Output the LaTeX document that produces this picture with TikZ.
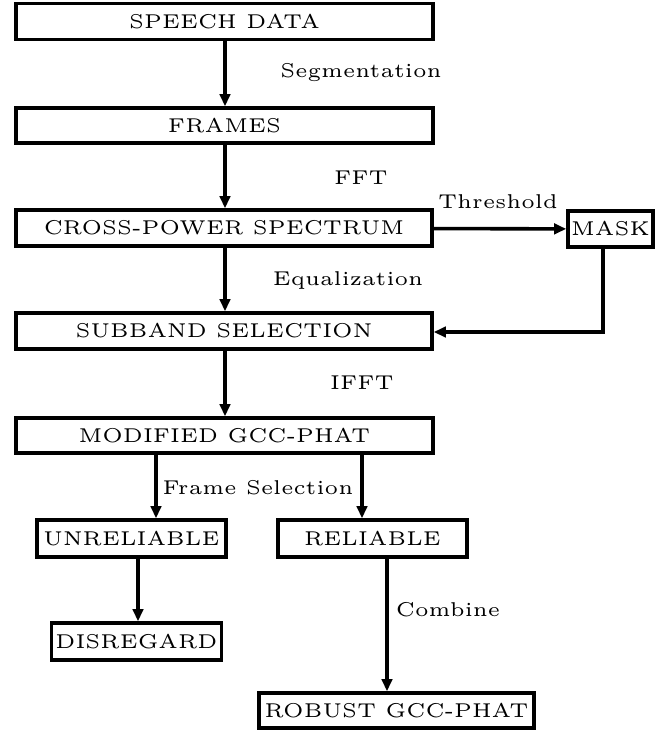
\documentclass[tikz,border=0pt]{standalone}
\usetikzlibrary{arrows.meta}
\begin{document}
\begin{tikzpicture}[x=0.25pt,y=-0.25pt,
  box/.style={draw,line width=0.9pt,rectangle,inner sep=0pt,font=\tiny},
  lbl/.style={font=\tiny,inner sep=0pt},
  flow/.style={line width=0.9pt,-{Triangle[length=3pt,width=2.6pt]}}]
\useasboundingbox (0,0) rectangle (661,731);
% boxes: centre and size in pixel units
\node[box,minimum width=417*0.25pt,minimum height=36*0.25pt] (speech) at (224.5,21.5) {SPEECH DATA};
\node[box,minimum width=417*0.25pt,minimum height=35*0.25pt] (frames) at (224.5,125.5) {FRAMES};
\node[box,minimum width=416*0.25pt,minimum height=36*0.25pt] (cross) at (224,228) {CROSS-POWER SPECTRUM};
\node[box,minimum width=85*0.25pt,minimum height=36*0.25pt] (mask) at (610.5,229) {MASK};
\node[box,minimum width=416*0.25pt,minimum height=36*0.25pt] (subband) at (224,331) {SUBBAND SELECTION};
\node[box,minimum width=417*0.25pt,minimum height=35*0.25pt] (modified) at (224.5,435.5) {MODIFIED GCC-PHAT};
\node[box,minimum width=189*0.25pt,minimum height=37*0.25pt] (unrel) at (131.5,538.5) {UNRELIABLE};
\node[box,minimum width=189*0.25pt,minimum height=37*0.25pt] (rel) at (372.5,538.5) {RELIABLE};
\node[box,minimum width=170*0.25pt,minimum height=37*0.25pt] (disreg) at (136.5,641.5) {DISREGARD};
\node[box,minimum width=275*0.25pt,minimum height=35*0.25pt] (robust) at (396.5,710.5) {ROBUST GCC-PHAT};
% arrow columns
\coordinate (c1) at (225,0);
\coordinate (c2) at (156,0);
\coordinate (c3) at (362,0);
\coordinate (c4) at (138,0);
\coordinate (c5) at (387,0);
\coordinate (c6) at (603,0);
\coordinate (bend) at (603,332);
% connectors
\draw[flow] (speech.south -| c1) -- (frames.north -| c1);
\draw[flow] (frames.south -| c1) -- (cross.north -| c1);
\draw[flow] (cross) -- (mask);
\draw[flow] (cross.south -| c1) -- (subband.north -| c1);
\draw[flow] (mask.south -| c6) -- (bend) -- (bend -| subband.east);
\draw[flow] (subband.south -| c1) -- (modified.north -| c1);
\draw[flow] (modified.south -| c2) -- (unrel.north -| c2);
\draw[flow] (modified.south -| c3) -- (rel.north -| c3);
\draw[flow] (unrel.south -| c4) -- (disreg.north -| c4);
\draw[flow] (rel.south -| c5) -- (robust.north -| c5);
% labels
\node[lbl] (l1) at (361,72) {Segmentation};
\node[lbl] (l2) at (361,178) {FFT};
\node[lbl] (l3) at (498,202) {Threshold};
\node[lbl] (l4) at (348,280) {Equalization};
\node[lbl] (l5) at (362,383) {IFFT};
\node[lbl] (l6) at (258,488) {Frame Selection};
\node[lbl] (l7) at (448,610) {Combine};
\end{tikzpicture}
\end{document}
